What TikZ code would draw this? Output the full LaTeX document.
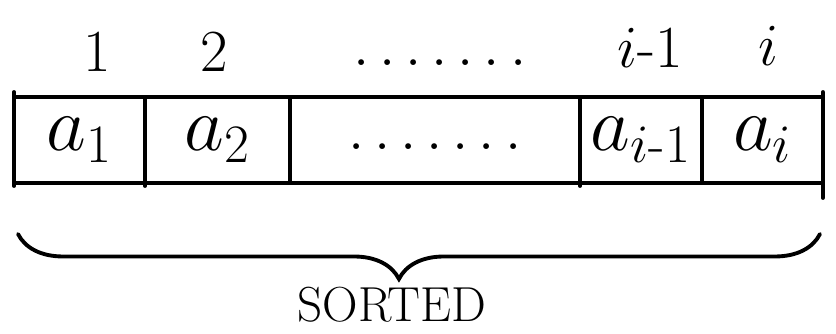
\RequirePackage{fix-cm}
\documentclass[tikz,border=0pt]{standalone}
\usetikzlibrary{positioning,decorations.pathreplacing}
\begin{document}
\begin{tikzpicture}[
    x=0.02cm, y=-0.02cm,
    line width=2.2pt, line cap=round,
    cell/.style={draw, line width=2.2pt, minimum height=1.72cm, inner sep=0pt, outer sep=0pt, font=\fontsize{44}{50}\selectfont},
    idx/.style={font=\fontsize{34}{40}\selectfont},
    lbl/.style={font=\fontsize{28}{32}\selectfont},
    brace/.style={decorate, decoration={brace, mirror, amplitude=0.9cm, aspect=0.475}},
]
\useasboundingbox (0,0) rectangle (836,334);

\node[cell, minimum width=2.62cm] (a1) at (79.5,140) {$a_1$};
\node[cell, minimum width=2.9cm, right=0pt of a1]  (a2) {$a_2$};
\node[cell, minimum width=5.8cm, right=0pt of a2]  (amid) {};
\node[cell, minimum width=2.44cm, right=0pt of amid] (a4) {$a_{i\mathchar"002D 1}$};
\node[cell, minimum width=2.42cm, right=0pt of a4]  (a5) {$a_i$};
\node[idx, anchor=base] (cdots) at (435,150) {$.\,.\,.\,.\,.\,.\,.$};

\draw (a1.north west) -- ++(0,-5);
\draw (a1.south west) -- ++(0,3);
\draw (a1.south east) -- ++(0,3);
\draw (a4.south west) -- ++(0,3);
\draw (a5.north east) -- ++(0,-5);
\draw (a5.south east) -- ++(0,15);

\node[idx] (n1) at (97,52) {$1$};
\node[idx] (n2) at (214,52) {$2$};
\node[idx, anchor=base] (ndots) at (440,66) {$.\,.\,.\,.\,.\,.\,.$};
\node[idx] (nprev) at (650,48) {$i\mathchar"002D 1$};
\node[idx] (ni) at (768,46) {$i$};

\coordinate (bl) at (18,234);
\coordinate (br) at (820,234);
\draw[brace] (bl) -- (br);
\node[lbl] (sorted) at (392,305) {$\mathrm{SORTED}$};
\end{tikzpicture}
\end{document}
